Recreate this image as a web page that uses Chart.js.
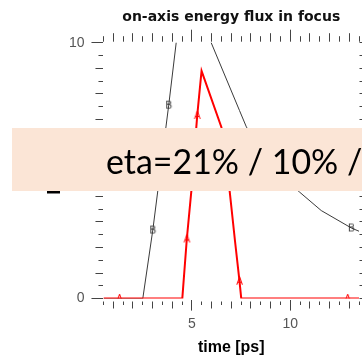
<!DOCTYPE html>
<html>
<head>
<meta charset="utf-8">
<script src="https://cdn.jsdelivr.net/npm/chart.js@4/dist/chart.umd.min.js"></script>
<style>
  html, body { margin: 0; padding: 0; background: #fff; overflow: hidden; }
  #wrap { position: relative; width: 372px; height: 357px; }
</style>
</head>
<body>
<div id="wrap"><canvas id="c"></canvas></div>
<script>
// Run A (red): time [ps] and on-axis flux
const timeA = [0.5, 1.31, 4.51, 4.74, 4.97, 5.27, 5.49, 6.5, 6.92, 7.19, 7.42, 7.51, 12.92, 13.6];
const fluxA = [0, 0, 0, 2.33, 4.2, 7.16, 8.9, 6.7, 4.2, 2.26, 0.68, 0, 0, 0];
const markA = [1, 3, 5, 10, 12];

// Run B (black): time [ps] and on-axis flux
const timeB = [0.5, 2.5, 3.01, 3.82, 4.2, 4.66, 5.98, 7.42, 7.77, 9.0, 10.48, 11.58, 13.11, 13.6];
const fluxB = [0, 0, 2.68, 7.56, 10, 12.5, 10, 7.35, 6.71, 5.2, 4.16, 3.44, 2.76, 2.6];
const markB = [2, 3, 12];

// Labelled ticks
const xTickLabels = [5, 10];
const yTickLabels = [0, 10];
const xMajor = [5, 10];
const yMajor = [0, 5, 10];

const FONT = '"Liberation Sans", Arial, Helvetica, sans-serif';
Chart.defaults.font.family = FONT;

function letterMark(ch, color) {
  const c = document.createElement('canvas');
  c.width = 9; c.height = 11;
  const g = c.getContext('2d');
  g.font = '10px ' + FONT;
  g.fillStyle = color;
  g.textAlign = 'center';
  g.textBaseline = 'middle';
  g.fillText(ch, 4.5, 6);
  return c;
}
const markerA = letterMark('A', '#ff0000');
const markerB = letterMark('B', '#333333');

function kind(v, majors) {
  if (majors.some(m => Math.abs(m - v) < 1e-9)) return 2;
  if (Math.abs(v - Math.round(v)) < 1e-9) return 1;
  return 0;
}
// tick drawn from the axis edge outward (bottom / right scales)
function dashFromAxis(majors, lens, gaps) {
  return (ctx) => {
    if (!ctx.tick) return [];
    const k = kind(ctx.tick.value, majors);
    return [0, gaps[k], lens[k], 80];
  };
}
// tick drawn from the outer end toward the axis (top / left scales)
function dashToAxis(majors, lens, gaps, tl) {
  return (ctx) => {
    if (!ctx.tick) return [];
    const k = kind(ctx.tick.value, majors);
    return [0, tl - lens[k] - gaps[k], lens[k], 80];
  };
}

const ptsA = timeA.map((t, i) => ({ x: t, y: fluxA[i] }));
const ptsB = timeB.map((t, i) => ({ x: t, y: fluxB[i] }));

// peach caption band laid over the plot
const bandPlugin = {
  id: 'band',
  afterDraw(chart) {
    const ctx = chart.ctx;
    const caption = 'eta=21% / 10% /';
    ctx.save();
    ctx.fillStyle = '#FBE5D6';
    ctx.fillRect(12, 128, chart.width, 63);
    ctx.font = '33px Lato, "Open Sans", sans-serif';
    const w = ctx.measureText('eta=21% / 10% ').width;
    const size = 33 * 241 / w;
    ctx.font = size.toFixed(2) + 'px Lato, "Open Sans", sans-serif';
    ctx.fillStyle = '#000';
    ctx.textBaseline = 'alphabetic';
    ctx.textAlign = 'left';
    ctx.fillText(caption, 106, 174);
    ctx.restore();
  }
};

new Chart(document.getElementById('c'), {
  type: 'line',
  data: {
    datasets: [
      {
        label: 'A',
        data: ptsA,
        borderColor: '#ff0000',
        borderWidth: 2,
        tension: 0,
        pointStyle: (c) => markA.includes(c.dataIndex) ? markerA : 'circle',
        pointRadius: (c) => markA.includes(c.dataIndex) ? 3 : 0,
        pointHoverRadius: 0
      },
      {
        label: 'B',
        data: ptsB,
        borderColor: '#3a3a3a',
        borderWidth: 1,
        tension: 0,
        pointStyle: (c) => markB.includes(c.dataIndex) ? markerB : 'circle',
        pointRadius: (c) => markB.includes(c.dataIndex) ? 3 : 0,
        pointHoverRadius: 0
      }
    ]
  },
  options: {
    responsive: true,
    maintainAspectRatio: false,
    devicePixelRatio: 1,
    animation: false,
    events: [],
    layout: { padding: { left: 31.2, right: 3, top: 0, bottom: 0 } },
    plugins: {
      legend: { display: false },
      tooltip: { enabled: false },
      title: {
        display: true,
        text: 'on-axis energy flux in focus',
        fullSize: false,
        color: '#111',
        font: { family: '"DejaVu Sans", Verdana, sans-serif', size: 14, weight: 'bold' },
        padding: { top: 9.4, bottom: 3.5 }
      }
    },
    scales: {
      x: {
        type: 'linear',
        position: 'bottom',
        min: 0.5, max: 13.5,
        border: { display: false },
        grid: {
          drawOnChartArea: false,
          tickLength: 12,
          tickColor: '#444',
          tickWidth: 1,
          tickBorderDash: dashFromAxis(xMajor, [3.5, 7, 11], [2.5, 2.5, 1])
        },
        ticks: {
          stepSize: 0.5,
          autoSkip: false,
          maxRotation: 0,
          padding: 5.2,
          color: '#555',
          font: { size: 14 },
          callback: (v) => xTickLabels.includes(v) ? String(v) : ''
        },
        title: {
          display: true,
          text: 'time [ps]',
          color: '#000',
          font: { size: 16, weight: 'bold' },
          padding: { top: 0, bottom: 0 }
        }
      },
      x2: {
        type: 'linear',
        position: 'top',
        min: 0.5, max: 13.5,
        border: { display: false },
        grid: {
          drawOnChartArea: false,
          tickLength: 13,
          tickColor: '#444',
          tickWidth: 1,
          tickBorderDash: dashToAxis(xMajor, [5.5, 8.5, 12], [1, 1, 1], 13)
        },
        ticks: { stepSize: 0.5, autoSkip: false, display: false }
      },
      y: {
        type: 'linear',
        position: 'left',
        min: 0, max: 10,
        border: { display: false },
        grid: {
          drawOnChartArea: false,
          tickLength: 12,
          tickColor: '#444',
          tickWidth: 1,
          tickBorderDash: dashToAxis(yMajor, [5, 8, 12], [0, 0, 0], 12)
        },
        ticks: {
          stepSize: 0.5,
          autoSkip: false,
          padding: 7,
          color: '#555',
          font: { size: 14 },
          callback: (v) => yTickLabels.includes(v) ? String(v) : ''
        },
        title: {
          display: true,
          text: 'F [kJ]',
          color: '#000',
          font: { size: 18, weight: 'bold' },
          padding: { top: 13, bottom: -3.9 }
        }
      },
      y2: {
        type: 'linear',
        position: 'right',
        min: 0, max: 10,
        border: { display: false },
        grid: {
          drawOnChartArea: false,
          tickLength: 10,
          tickColor: '#444',
          tickWidth: 1,
          tickBorderDash: dashFromAxis(yMajor, [3.5, 6, 10], [0.5, 0.5, 0.5])
        },
        ticks: { stepSize: 0.5, autoSkip: false, display: false }
      }
    }
  },
  plugins: [bandPlugin]
});
</script>
</body>
</html>
